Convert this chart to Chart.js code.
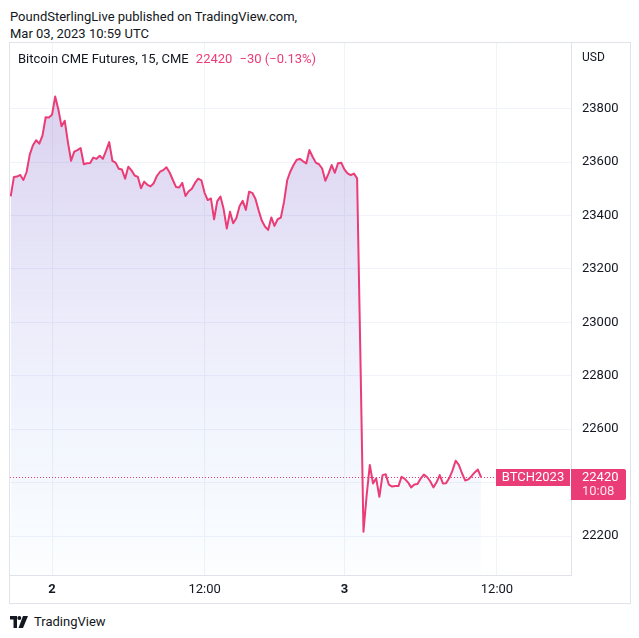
<!DOCTYPE html>
<html>
<head>
<meta charset="utf-8">
<script src="https://cdn.jsdelivr.net/npm/chart.js"></script>
<style>
  body { margin: 0; background: #fff; width: 639px; height: 638px; position: relative; overflow: hidden;
         font-family: Roboto, "Liberation Sans", sans-serif; color: #131722; }
  #head { position: absolute; left: 10px; top: 8px; font-size: 13px; line-height: 17px; }
  #box { position: absolute; left: 9px; top: 42px; width: 620px; height: 560px; border: 1px solid #e0e3eb; }
  #legend { position: absolute; left: 18px; top: 51px; font-size: 13px; }
  #legend .pink { color: #ea3c76; margin-left: 4px; }
  #usd { position: absolute; left: 582px; top: 50px; font-size: 12px; }
  #foot { position: absolute; left: 10px; top: 614px; font-size: 13px; display: flex; align-items: center; }
  #foot svg { margin-right: 6px; }
</style>
</head>
<body>
<div id="head">PoundSterlingLive published on TradingView.com,<br>Mar 03, 2023 10:59 UTC</div>
<div id="box"><canvas id="myChart"></canvas></div>
<div id="legend">Bitcoin CME Futures, 15, CME <span class="pink">22420</span><span class="pink">&nbsp;−30 (−0.13%)</span></div>
<div id="usd">USD</div>
<div id="foot">
  <svg width="18" height="12" viewBox="0 0 18 12">
    <path d="M0 0h7v12h-3.5v-8.5h-3.5z" fill="#131722"/>
    <circle cx="9.3" cy="2" r="2" fill="#131722"/>
    <path d="M13 0h5l-5 12h-4.5z" fill="#131722"/>
  </svg>
  <span>TradingView</span>
</div>
<script>
// 15 min bars, Mar 1 evening to Mar 3 ~10:00 UTC
const values = [
  23472, 23544, 23546, 23552, 23533, 23563, 23628, 23663, 23682, 23669,
  23699, 23768, 23767, 23777, 23846, 23797, 23734, 23755, 23675, 23605,
  23639, 23645, 23653, 23592, 23596, 23597, 23617, 23612, 23624, 23612,
  23642, 23675, 23605, 23598, 23575, 23572, 23538, 23583, 23569, 23550,
  23545, 23502, 23527, 23515, 23509, 23521, 23548, 23564, 23570, 23581,
  23561, 23534, 23507, 23505, 23522, 23473, 23491, 23500, 23522, 23538,
  23532, 23485, 23458, 23464, 23386, 23454, 23471, 23424, 23351, 23414,
  23371, 23390, 23435, 23455, 23421, 23489, 23485, 23463, 23420, 23381,
  23359, 23346, 23393, 23361, 23386, 23392, 23451, 23532, 23565, 23589,
  23609, 23612, 23603, 23595, 23645, 23620, 23598, 23592, 23576, 23530,
  23557, 23589, 23560, 23596, 23598, 23573, 23558, 23551, 23557, 23539,
  22896, 22216, 22352, 22466, 22397, 22416, 22347, 22428, 22431, 22392,
  22385, 22387, 22387, 22422, 22414, 22401, 22382, 22393, 22395, 22415,
  22430, 22421, 22405, 22382, 22401, 22428, 22397, 22398, 22417, 22445,
  22482, 22466, 22435, 22408, 22412, 22424, 22438, 22449, 22420
];
const xTickPositions = [13, 61, 105, 153];
const xTickLabels = ['2', '12:00', '3', '12:00'];
const dayLabels = ['2', '3'];
const yTickValues = [22200, 22400, 22600, 22800, 23000, 23200, 23400, 23600, 23800];
const lastPrice = 22420;
const symbolName = 'BTCH2023';
const countdown = '10:08';

const PINK = '#ea3c76';
const GRID = '#f0f3fa';
const BORDER = '#e0e3eb';

const points = values.map((v, i) => ({ x: i, y: v }));

const priceTags = {
  id: 'priceTags',
  afterDatasetsDraw(chart) {
    const { ctx, chartArea, scales } = chart;
    const y = Math.round(scales.y.getPixelForValue(lastPrice)) + 0.5;
    ctx.save();
    ctx.strokeStyle = PINK;
    ctx.lineWidth = 1;
    ctx.setLineDash([1, 2]);
    ctx.beginPath();
    ctx.moveTo(chartArea.left, y);
    ctx.lineTo(chartArea.right - 75, y);
    ctx.stroke();
    ctx.setLineDash([]);
    // symbol label
    ctx.fillStyle = PINK;
    ctx.fillRect(chartArea.right - 75, y - 8.5, 74, 17);
    ctx.fillStyle = '#fff';
    ctx.font = '13px Roboto';
    ctx.textBaseline = 'middle';
    ctx.textAlign = 'center';
    ctx.fillText(symbolName, chartArea.right - 38, y + 0.5);
    ctx.restore();
  },
  afterDraw(chart) {
    const { ctx, chartArea, scales } = chart;
    const y = Math.round(scales.y.getPixelForValue(lastPrice));
    const x0 = chartArea.right;
    ctx.save();
    ctx.fillStyle = PINK;
    ctx.beginPath();
    ctx.roundRect(x0, y - 8, 55, 31, [0, 2, 2, 0]);
    ctx.fill();
    ctx.fillStyle = '#fff';
    ctx.font = '13px Roboto';
    ctx.textBaseline = 'middle';
    ctx.textAlign = 'left';
    ctx.fillText(String(lastPrice), x0 + 11, y + 1);
    ctx.fillStyle = 'rgba(255,255,255,0.85)';
    ctx.fillText(countdown, x0 + 11, y + 15);
    ctx.restore();
  }
};

const config = {
  type: 'line',
  data: {
    datasets: [{
      label: 'Bitcoin CME Futures',
      data: points,
      borderColor: PINK,
      borderWidth: 2,
      borderJoinStyle: 'round',
      pointRadius: 0,
      tension: 0,
      fill: 'start',
      backgroundColor: (ctx) => {
        const area = ctx.chart.chartArea;
        if (!area) return 'rgba(126,87,194,0.2)';
        const g = ctx.chart.ctx.createLinearGradient(0, area.top + 50, 0, area.bottom);
        g.addColorStop(0, 'rgba(126,87,194,0.28)');
        g.addColorStop(0.5, 'rgba(110,110,220,0.12)');
        g.addColorStop(1, 'rgba(33,150,243,0.01)');
        return g;
      }
    }]
  },
  options: {
    responsive: true,
    maintainAspectRatio: false,
    animation: false,
    layout: { padding: 0 },
    plugins: {
      legend: { display: false },
      tooltip: { enabled: false }
    },
    scales: {
      x: {
        type: 'linear',
        min: -0.22,
        max: 176.3,
        afterFit: (s) => { s.height = 28; s.paddingLeft = 0; s.paddingRight = 0; },
        afterBuildTicks: (s) => { s.ticks = xTickPositions.map(v => ({ value: v })); },
        grid: { color: GRID, drawTicks: false },
        border: { color: BORDER },
        ticks: {
          padding: 7,
          color: '#131722',
          maxRotation: 0,
          autoSkip: false,
          font: (ctx) => ({
            family: 'Roboto', size: 13,
            weight: dayLabels.includes(xTickLabels[ctx.index]) ? 'bold' : 'normal'
          }),
          callback: (v, i) => xTickLabels[i]
        }
      },
      y: {
        position: 'right',
        min: 22054,
        max: 24046,
        afterFit: (s) => { s.width = 59; s.paddingTop = 0; s.paddingBottom = 0; },
        afterBuildTicks: (s) => { s.ticks = yTickValues.map(v => ({ value: v })); },
        grid: { color: GRID, drawTicks: false },
        border: { color: BORDER },
        ticks: {
          padding: 11,
          color: '#131722',
          font: { family: 'Roboto', size: 13 },
          callback: (v) => String(v)
        }
      }
    }
  },
  plugins: [priceTags]
};

const chart = new Chart(document.getElementById('myChart'), config);
</script>
</body>
</html>
